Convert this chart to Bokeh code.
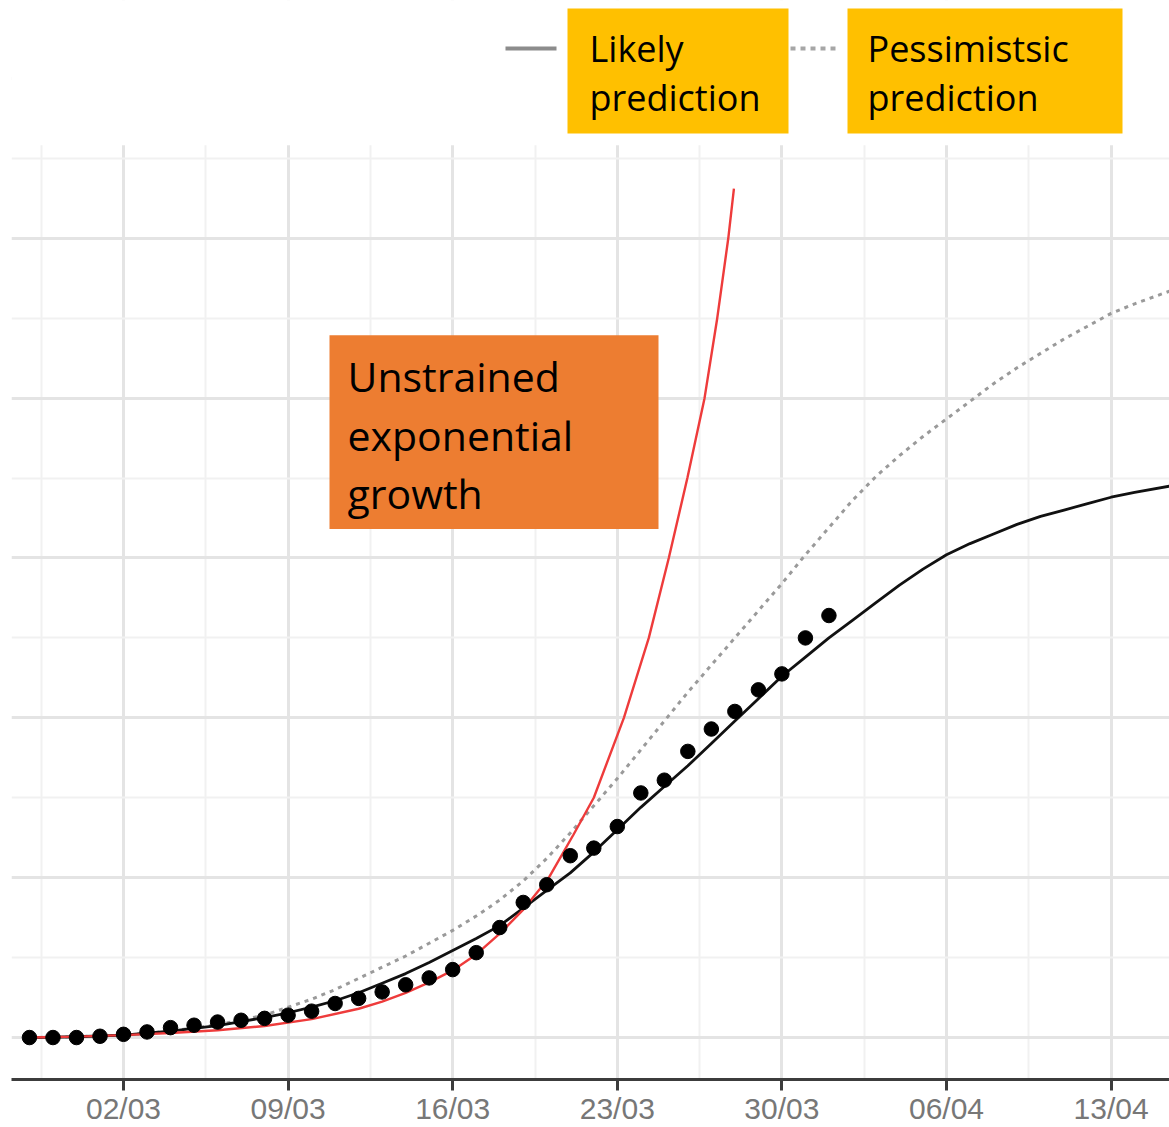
from bokeh.plotting import figure
from bokeh.models import FixedTicker, Range1d, Grid
from bokeh.core.properties import value
from bokeh.embed import file_html
from bokeh.resources import INLINE

# ---------------- data (x = days since 02/03, y = relative units) ----------------
obs_day = [-4, -3, -2, -1, 0, 1, 2, 3, 4, 5, 6, 7, 8, 9, 10, 11, 12, 13, 14, 15,
           16, 17, 18, 19, 20, 21, 22, 23, 24, 25, 26, 27, 28, 29, 30]
obs_val = [0, 0, 0, 0.008, 0.02, 0.035, 0.062, 0.077, 0.097, 0.108, 0.12, 0.14,
           0.165, 0.213, 0.245, 0.285, 0.33, 0.373, 0.425, 0.531, 0.688, 0.845,
           0.956, 1.1375, 1.185, 1.32, 1.53, 1.61, 1.79, 1.93, 2.04, 2.175, 2.275,
           2.50, 2.64]

likely_day = [-4, -2, 0, 2, 4, 5, 6, 7, 8, 9, 10, 11, 12, 13, 14, 15, 16, 17, 18,
              19, 20, 21, 22, 23, 24, 25, 26, 27, 28, 29, 30, 31, 32, 33, 34, 35,
              36, 37, 38, 39, 40, 41, 42, 43, 44.5]
likely_val = [0, 0.005, 0.015, 0.04, 0.075, 0.1, 0.125, 0.155, 0.19, 0.23, 0.28,
              0.34, 0.4, 0.47, 0.545, 0.62, 0.7, 0.81, 0.92, 1.03, 1.16, 1.30, 1.44,
              1.57, 1.70, 1.84, 1.98, 2.12, 2.26, 2.38, 2.50, 2.61, 2.72, 2.83, 2.93,
              3.02, 3.09, 3.15, 3.21, 3.26, 3.30, 3.34, 3.38, 3.41, 3.45]

pess_day = [-4, -2, 0, 2, 4, 5, 6, 7, 8, 9, 10, 11, 12, 13, 14, 15, 16, 17, 18,
            19, 20, 21, 22, 23, 24, 25, 26, 27, 28, 29, 30, 31, 32, 33, 34, 35,
            36, 37, 38, 39, 40, 41, 42, 43, 44.5]
pess_val = [0, 0.005, 0.015, 0.04, 0.08, 0.11, 0.14, 0.19, 0.24, 0.3, 0.37, 0.44,
            0.51, 0.59, 0.67, 0.76, 0.86, 0.98, 1.12, 1.28, 1.45, 1.62, 1.8, 1.98,
            2.16, 2.33, 2.5, 2.67, 2.84, 3.02, 3.19, 3.36, 3.51, 3.64, 3.76, 3.87,
            3.98, 4.09, 4.19, 4.28, 4.37, 4.45, 4.53, 4.59, 4.67]

expo_day = [-4, -2, 0, 2, 4, 6, 8, 10, 11, 12, 13, 14, 15, 16, 17, 18.09, 19.14,
            20, 21.28, 22.34, 23.19, 23.98, 24.71, 25.25, 25.72, 25.96]
expo_val = [0, 0.006, 0.015, 0.028, 0.046, 0.072, 0.115, 0.18, 0.225, 0.28, 0.345,
            0.42, 0.52, 0.65, 0.8, 1.0, 1.27, 1.5, 2.0, 2.5, 3.0, 3.5, 4.0, 4.5,
            5.0, 5.31]

tick_days = [0, 7, 14, 21, 28, 35, 42]
tick_labels = ["02/03", "09/03", "16/03", "23/03", "30/03", "06/04", "13/04"]
minor_days = [-3.5, 3.5, 10.5, 17.5, 24.5, 31.5, 38.5]
y_major = [0, 1, 2, 3, 4, 5, 6]
y_minor = [0.5, 1.5, 2.5, 3.5, 4.5, 5.5]

legend_likely = ["Likely", "prediction"]
legend_pess = ["Pessimistsic", "prediction"]
note_lines = ["Unstrained", "exponential", "growth"]

# ---------------- layout helpers (page pixels -> data) ----------------
W, H = 1169, 1127
LEFT = 11                  # frame left edge (px)
PXD = 164.6 / 7.0          # pixels per day
PXU = 160.0                # pixels per unit
X_START = -(123 - LEFT) / PXD
X_END = X_START + (W - LEFT) / PXD
Y_END = 1038 / PXU
Y_START = -(1080 - 1038) / PXU


def dx(px):
    return X_START + (px - LEFT) / PXD


def dy(py):
    return Y_END - py / PXU


p = figure(width=W, height=H, x_range=Range1d(X_START, X_END),
           y_range=Range1d(Y_START, Y_END), output_backend="svg",
           toolbar_location=None, y_axis_location=None,
           min_border_left=LEFT, min_border_right=0, min_border_top=0,
           min_border_bottom=0)
p.outline_line_color = None
p.background_fill_color = "white"
p.border_fill_color = "white"

# grids
p.ygrid.visible = False
p.xgrid.ticker = FixedTicker(ticks=tick_days, minor_ticks=minor_days)
p.xgrid.grid_line_color = "#e4e4e4"
p.xgrid.grid_line_width = 3
p.xgrid.minor_grid_line_color = "#f1f1f1"
p.xgrid.minor_grid_line_width = 2
yg = Grid(dimension=1, ticker=FixedTicker(ticks=y_major, minor_ticks=y_minor),
          grid_line_color="#e4e4e4", grid_line_width=3,
          minor_grid_line_color="#f1f1f1", minor_grid_line_width=2)
p.add_layout(yg)

# x axis
ax = p.xaxis[0]
ax.ticker = FixedTicker(ticks=tick_days, minor_ticks=[])
ax.major_label_overrides = {d: l for d, l in zip(tick_days, tick_labels)}
ax.axis_line_color = "#3c3c3c"
ax.axis_line_width = 3
ax.major_tick_line_color = "#3c3c3c"
ax.major_tick_line_width = 3
ax.major_tick_out = 11
ax.major_tick_in = 0
ax.minor_tick_line_color = None
ax.major_label_standoff = 1
ax.major_label_text_font = "Liberation Sans"
ax.major_label_text_font_size = "30px"
ax.major_label_text_color = "#777777"

# series
p.line(pess_day, pess_val, line_color="#9a9a9a", line_width=3, line_dash="4 5")
p.line(likely_day, likely_val, line_color="#111111", line_width=2.8)
p.line(expo_day, expo_val, line_color="#ee3b3b", line_width=2.4)
p.scatter(obs_day, obs_val, size=14.5, color="black")

# white band above plotting area (legend area)
p.quad(left=[X_START - 1], right=[X_END + 1], bottom=[dy(145)], top=[Y_END + 1],
       color="white", line_color=None)

# legend
p.line([dx(505), dx(556)], [dy(48), dy(48)], line_color="#8c8c8c", line_width=4)
p.line([dx(790), dx(836)], [dy(48), dy(48)], line_color="#a6a6a6", line_width=4,
       line_dash="5 5")
p.quad(left=[dx(567), dx(847)], right=[dx(788), dx(1122)],
       top=[dy(8), dy(8)], bottom=[dy(133), dy(133)], color="#FFC000",
       line_color=None)
p.text(x=[dx(589)] * 2, y=[dy(48), dy(97)], text=legend_likely,
       text_font=value("Open Sans"), text_font_size="36px", text_color="black",
       text_baseline="alphabetic", text_align="left")
p.text(x=[dx(867)] * 2, y=[dy(48), dy(97)], text=legend_pess,
       text_font=value("Open Sans"), text_font_size="36px", text_color="black",
       text_baseline="alphabetic", text_align="left")

# annotation box
p.quad(left=[dx(329)], right=[dx(658)], top=[dy(335)], bottom=[dy(529)],
       color="#ED7D31", line_color=None)
p.text(x=[dx(347)] * 3, y=[dy(376), dy(435), dy(493)], text=note_lines,
       text_font=value("Open Sans"), text_font_size="41px", text_color="black",
       text_baseline="alphabetic", text_align="left")

open("out.html", "w").write(file_html(p, INLINE))
